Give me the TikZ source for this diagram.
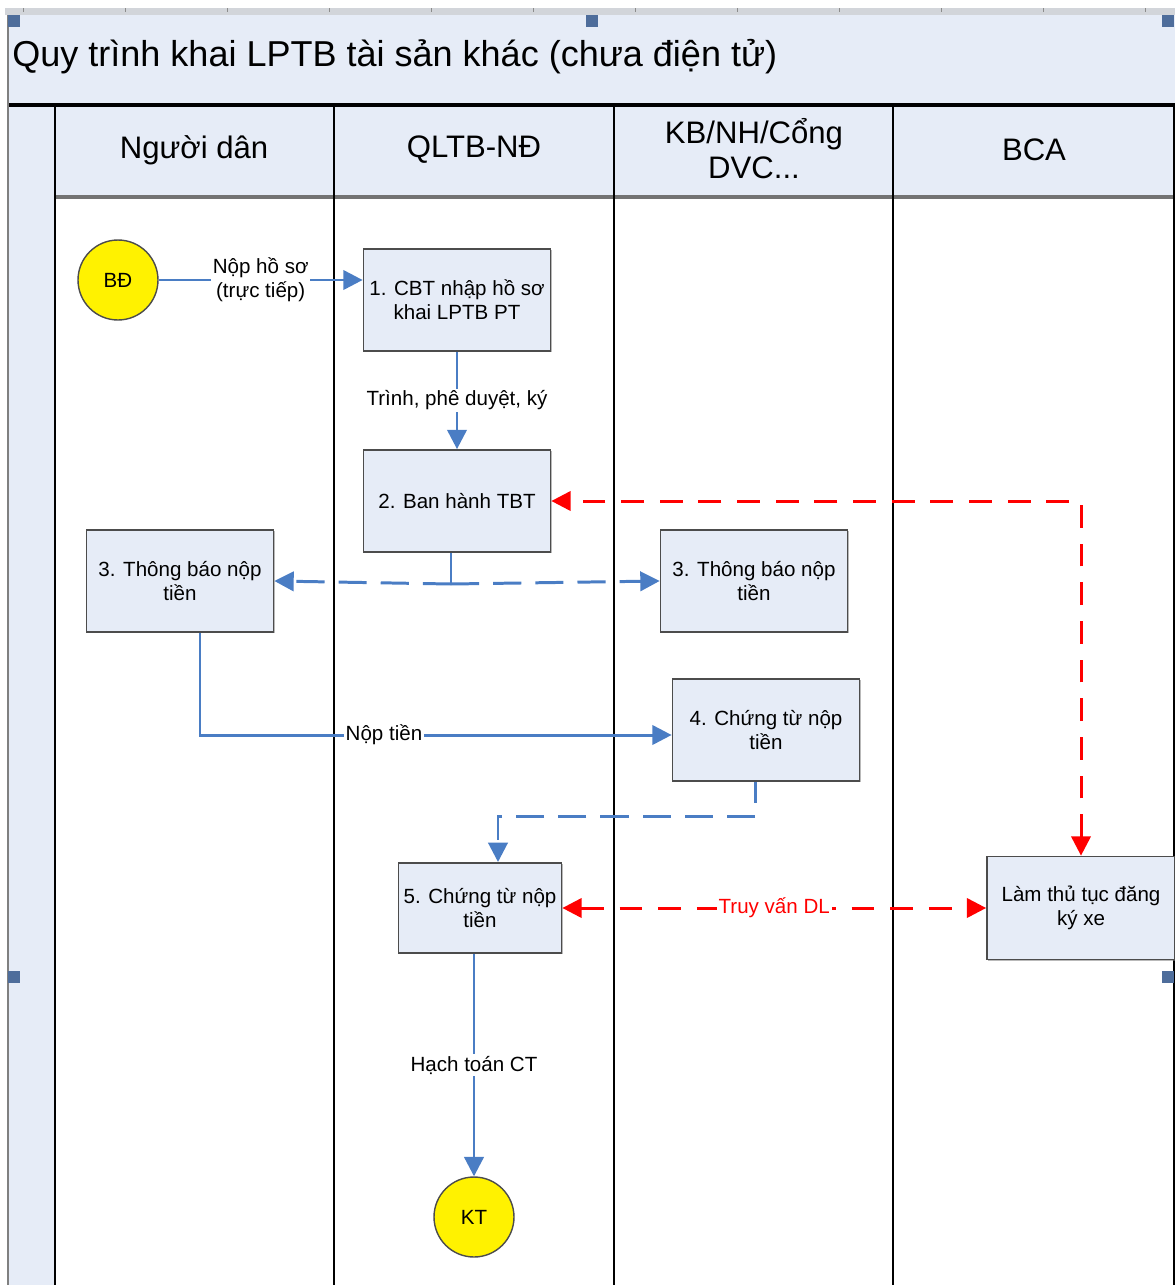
\documentclass[tikz,border=0pt]{standalone}
\usepackage{fontspec}
\setmainfont{Liberation Sans}
\usetikzlibrary{arrows.meta,shadows}
\definecolor{lanefill}{HTML}{E6ECF7}
\definecolor{flowblue}{HTML}{4A7DC4}
\definecolor{handle}{HTML}{4E6D9B}
\definecolor{ruler}{HTML}{D2D5DA}
\begin{document}
\begin{tikzpicture}[x=0.02cm, y=-0.02cm,
  txt/.style={font=\fontsize{11.7}{13.7}\selectfont, align=center},
  box/.style={txt, draw=black!70, line width=1pt, fill=lanefill, inner sep=2pt, minimum width=3.74cm, minimum height=2.04cm, drop shadow={shadow xshift=0.7pt, shadow yshift=-0.7pt, opacity=0.55}},
  term/.style={txt, draw=black!70, line width=0.8pt, fill=yellow, circle, inner sep=0pt, minimum size=1.6cm},
  lanehead/.style={font=\fontsize{17.7}{20}\selectfont, align=center},
  lbl/.style={txt, fill=white, inner sep=1pt},
  tip/.style={-{Triangle[length=11pt,width=11pt]}},
  flowline/.style={draw=flowblue, line width=1.7pt},
  flow/.style={flowline, tip},
  link/.style={flowline, dash pattern=on 16pt off 8pt},
  query/.style={draw=red, line width=1.7pt, dash pattern=on 13pt off 9pt, {Triangle[length=11pt,width=11pt]}-{Triangle[length=11pt,width=11pt]}}]
\useasboundingbox (0,0) rectangle (1175,1285);

% frame of the pool
\fill[ruler] (5,8) rectangle (1175,15);
\foreach \x in {23,125,...,1150}
  \draw[black!45, line width=0.5pt] (\x,8) -- (\x,12);
\fill[lanefill] (8,15) rectangle (1175,105);
\fill[lanefill] (8,105) rectangle (55,1285);
\fill[lanefill] (55,105) rectangle (1175,197);
\draw[black!55, line width=2pt] (55,197) -- (1175,197);
\draw[line width=1.8pt] (8,105) -- (1175,105);
\draw[black!50, line width=1pt] (8,15) -- (8,1285);
\foreach \x in {55,334,614,893,1174}
  \draw[line width=1.1pt] (\x,105) -- (\x,1285);
\foreach \x/\y in {14/21, 592/21, 1168/21, 14/977, 1168/977}
  \fill[handle] (\x-6,\y-6) rectangle (\x+6,\y+6);

\node (title) at (12,57) [anchor=west, inner sep=0pt, font=\fontsize{20.5}{24}\selectfont] {Quy trình khai LPTB tài sản khác (chưa điện tử)};
\node (hdan) at (194,150) [lanehead] {Người dân};
\node (hql) at (474,150) [lanehead] {QLTB-NĐ};
\node (hkb) at (754,149) [lanehead] {KB/NH/Cổng\\DVC...};
\node (hbca) at (1034,150) [lanehead] {BCA};

% steps
\node (bd) at (118,280) [term] {BĐ};
\node (cbt) at (457,300) [box] {1. CBT nhập hồ sơ\\khai LPTB PT};
\node (tbt) at (457,501) [box] {2. Ban hành TBT};
\node (tb3l) at (180,581) [box] {3. Thông báo nộp\\tiền};
\node (tb3r) at (754,581) [box] {3. Thông báo nộp\\tiền};
\node (ct4) at (766,730) [box] {4. Chứng từ nộp\\tiền};
\node (ct5) at (480,908) [box, minimum width=3.26cm, minimum height=1.8cm] {5. Chứng từ nộp\\tiền};
\node (lam) at (1081,908) [box, minimum width=3.76cm, minimum height=2.06cm] {Làm thủ tục đăng\\ký xe};
\node (kt) at (474,1217) [term] {KT};

\coordinate (split) at (451,584);
\coordinate (paydown) at (200,735);
\coordinate (stubend) at (755,803);
\coordinate (turn) at (755,816);
\coordinate (ct5in) at (498,862);

\draw[flow] (bd) -- (bd -| cbt.west) node[lbl, midway] {Nộp hồ sơ\\(trực tiếp)};
\draw[flow] (cbt) -- (tbt) node[lbl, midway] {Trình, phê duyệt, ký};
\draw[flowline] (tbt.south -| split) -- (split);
\draw[link, tip] (split) -- (tb3l.east);
\draw[link, tip] (split) -- (tb3r.west);
\draw[flow] (tb3l.south -| paydown) -- (paydown) -- node[lbl, pos=0.39] {Nộp tiền} (paydown -| ct4.west);
\draw[flowline] (ct4.south -| stubend) -- (stubend);
\draw[link, tip] (turn) -| (ct5in);
\draw[query] (lam.north) |- (tbt.east);
\draw[query] (ct5) -- (lam) node[lbl, midway, text=red] {Truy vấn DL};
\draw[flow] (ct5.south -| kt) -- (kt) node[lbl, midway] {Hạch toán CT};
\end{tikzpicture}
\end{document}
